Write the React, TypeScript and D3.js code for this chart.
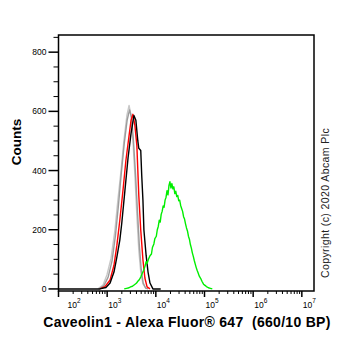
import React from "react";
import * as d3 from "d3";

const W = 362, H = 351;

const yTicks = [0, 200, 400, 600, 800];
const yMinor = [50, 100, 150, 250, 300, 350, 450, 500, 550, 650, 700, 750, 850];
const xDecades = [2, 3, 4, 5, 6, 7];
const yTitle = "Counts";
const xTitle = "Caveolin1 - Alexa Fluor\u00ae 647  (660/10 BP)";
const copyright = "Copyright (c) 2020 Abcam Plc";

// [log10 fluorescence, count]
const lightGray: [number, number][] = [
  [2.81, 0], [2.915, 13], [2.995, 47], [3.08, 104], [3.16, 199], [3.22, 300], [3.285, 400],
  [3.345, 502], [3.405, 586], [3.45, 620], [3.49, 586], [3.53, 502], [3.57, 384], [3.61, 249],
  [3.65, 131], [3.69, 57], [3.735, 17], [3.8, 0],
];
const midGray: [number, number][] = [
  [2.83, 0], [2.93, 10], [3.02, 40], [3.1, 95], [3.17, 180], [3.23, 280], [3.29, 390],
  [3.35, 490], [3.41, 570], [3.46, 605], [3.5, 580], [3.54, 500], [3.58, 395], [3.62, 270],
  [3.66, 150], [3.7, 65], [3.74, 20], [3.79, 3], [3.84, 0],
];
const red: [number, number][] = [
  [2.85, 0], [2.955, 8], [3.06, 30], [3.14, 80], [3.2, 148], [3.26, 232], [3.325, 333],
  [3.385, 434], [3.45, 518], [3.49, 569], [3.53, 590], [3.57, 552], [3.61, 485], [3.63, 400],
  [3.65, 316], [3.69, 199], [3.735, 98], [3.775, 37], [3.82, 7], [3.88, 0],
];
const black: [number, number][] = [
  [2.0, 0], [2.85, 0], [2.975, 5], [3.06, 20], [3.14, 57], [3.2, 108], [3.26, 165], [3.3, 222],
  [3.365, 333], [3.43, 444], [3.49, 525], [3.55, 586], [3.59, 570], [3.63, 500], [3.65, 475],
  [3.69, 468], [3.71, 384], [3.735, 300], [3.755, 199], [3.8, 114], [3.84, 57], [3.88, 20],
  [3.94, 0], [4.1, 0],
];
const green: [number, number][] = [
  [3.35, 0], [3.4, 2], [3.45, 4], [3.48, 7], [3.52, 9], [3.56, 14], [3.6, 19], [3.63, 26],
  [3.66, 31], [3.69, 40], [3.72, 52], [3.75, 63], [3.78, 78], [3.8, 92], [3.82, 86], [3.85, 101],
  [3.88, 112], [3.91, 118], [3.93, 140], [3.96, 152], [3.98, 170], [4.01, 178], [4.03, 200],
  [4.05, 211], [4.07, 232], [4.09, 226], [4.11, 252], [4.13, 262], [4.15, 280], [4.17, 276],
  [4.19, 300], [4.21, 310], [4.23, 332], [4.25, 318], [4.27, 350], [4.29, 362], [4.31, 341],
  [4.33, 356], [4.35, 338], [4.37, 345], [4.39, 322], [4.41, 330], [4.43, 312], [4.45, 316],
  [4.47, 298], [4.49, 300], [4.51, 282], [4.53, 272], [4.55, 262], [4.57, 244], [4.59, 236],
  [4.61, 220], [4.63, 206], [4.65, 196], [4.67, 178], [4.69, 168], [4.71, 150], [4.73, 138],
  [4.75, 122], [4.77, 110], [4.79, 96], [4.81, 84], [4.83, 72], [4.85, 62], [4.87, 54],
  [4.89, 44], [4.92, 36], [4.95, 25], [4.98, 16], [5.01, 12], [5.04, 8], [5.08, 4], [5.12, 2],
  [5.16, 0],
];

const series = [
  { data: lightGray, color: "#c8c8c8" },
  { data: midGray, color: "#9c9c9c" },
  { data: red, color: "#ff0000" },
  { data: black, color: "#000000" },
  { data: green, color: "#00ee00" },
];

export default function App() {
  const left = 58.5, right = 314, top = 35, bottom = 291;
  const x = d3.scaleLog().domain([100, Math.pow(10, 7.25)]).range([left, right]);
  const y = d3.scaleLinear().domain([-7, 858]).range([bottom, top]);
  const line = d3
    .line<[number, number]>()
    .x((d) => x(Math.pow(10, d[0])))
    .y((d) => y(d[1]));

  const minorX: number[] = [];
  for (const dec of xDecades) {
    for (let m = 2; m <= 9; m++) {
      const v = m * Math.pow(10, dec);
      if (x(v) <= right) minorX.push(v);
    }
  }
  const font = "Arial, 'Liberation Sans', sans-serif";

  return (
    <svg width={W} height={H} style={{ position: "absolute", left: 0, top: 0, background: "#fff" }} fontFamily={font}>
      <rect x={0} y={0} width={W} height={H} fill="#fff" />
      {series.map((s, i) => (
        <path key={i} d={line(s.data) || ""} fill="none" stroke={s.color} strokeWidth={1.4} strokeLinejoin="round" />
      ))}
      {/* frame */}
      <rect x={left} y={top} width={right - left} height={bottom - top} fill="none" stroke="#000" strokeWidth={1.5} />
      {/* y ticks */}
      {yTicks.map((t) => (
        <g key={t}>
          <line x1={left - 10} x2={left} y1={y(t)} y2={y(t)} stroke="#000" strokeWidth={1.5} />
          <text x={left - 12} y={y(t) + 3} textAnchor="end" fontSize={8.5}>{t}</text>
        </g>
      ))}
      {yMinor.map((t) => (
        <line key={t} x1={left - 5} x2={left} y1={y(t)} y2={y(t)} stroke="#000" strokeWidth={1} />
      ))}
      {/* x ticks */}
      {xDecades.map((d) => (
        <g key={d}>
          <line x1={x(Math.pow(10, d))} x2={x(Math.pow(10, d))} y1={bottom} y2={bottom + 6} stroke="#000" strokeWidth={1.5} />
          <text x={x(Math.pow(10, d)) + (d === 2 ? 9 : 1)} y={bottom + 17} fontSize={8.5}>
            10<tspan dy={-5} fontSize={6.5}>{d}</tspan>
          </text>
        </g>
      ))}
      {minorX.map((v, i) => (
        <line key={i} x1={x(v)} x2={x(v)} y1={bottom} y2={bottom + 3} stroke="#000" strokeWidth={1} />
      ))}
      <text transform="translate(21,142) rotate(-90)" textAnchor="middle" fontSize={13.5} fontWeight="bold">{yTitle}</text>
      <text x={187} y={327} textAnchor="middle" fontSize={14} letterSpacing={0.3} fontWeight="bold" style={{ whiteSpace: "pre" }}>{xTitle}</text>
      <text transform="translate(329,203) rotate(-90)" textAnchor="middle" fontSize={10.5} letterSpacing={0.4} fill="#222">{copyright}</text>
    </svg>
  );
}
